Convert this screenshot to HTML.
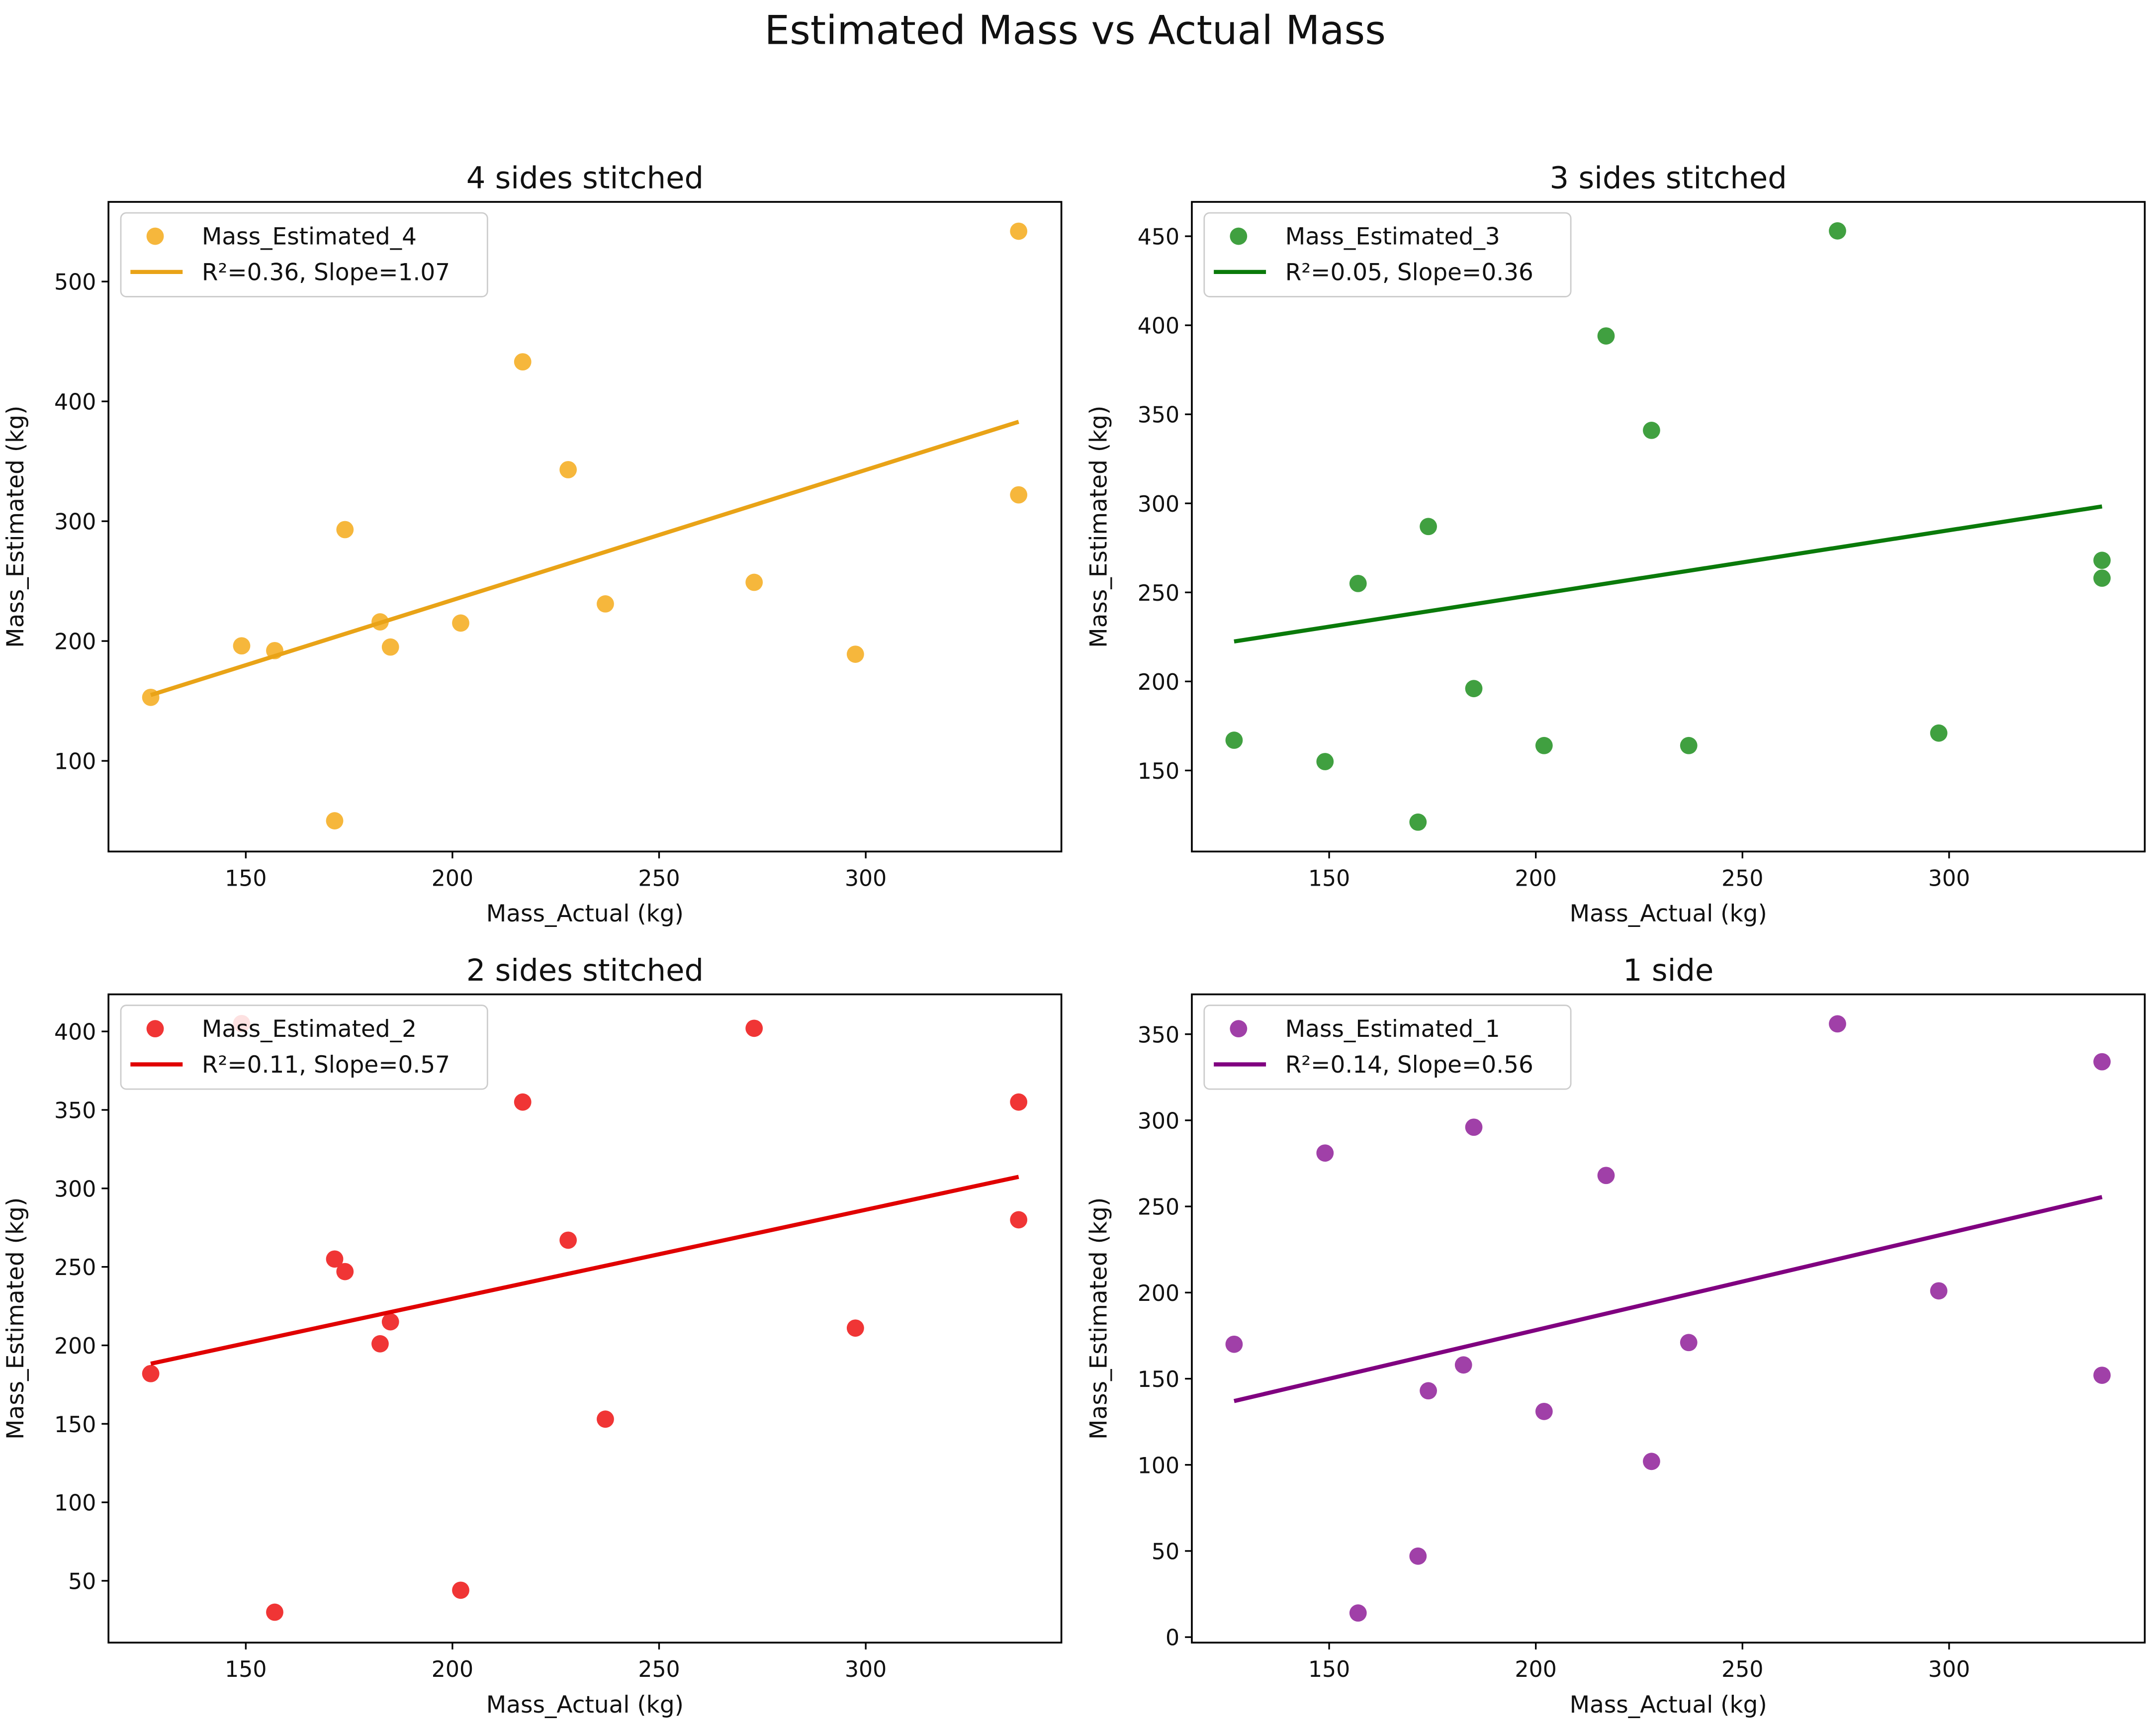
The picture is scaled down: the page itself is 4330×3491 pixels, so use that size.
<!DOCTYPE html>
<html><head><meta charset="utf-8"><style>
html,body{margin:0;padding:0;background:#fff}
svg{display:block}
text{font-family:"DejaVu Sans","Liberation Sans",sans-serif;fill:#111}
</style></head><body>
<svg id="chart" width="4330" height="3491" viewBox="0 0 1568 1264" preserveAspectRatio="none" xmlns="http://www.w3.org/2000/svg">
<rect width="1568" height="1264" fill="#fff"/>
<text x="783" y="32" font-size="29" text-anchor="middle">Estimated Mass vs Actual Mass</text>
</svg>
<script>
const massActual = [127,149,157,171.5,174,182.5,185,202,217,228,237,273,297.5,337,337];
const est4 = [153,196,192,50,293,216,195,215,433,343,231,249,189,542,322];
const est3 = [167,155,255,121,287,null,196,164,394,341,164,453,171,268,258];
const est2 = [182,405,30,255,247,201,215,44,355,267,153,402,211,355,280];
const est1 = [170,281,14,47,143,158,296,131,268,102,171,356,201,334,152];
const slopes = [1.086,0.361,0.567,0.564];
const intercepts = [17,176.6,116.3,65.4];
const r2Labels = ["R²=0.36, Slope=1.07","R²=0.05, Slope=0.36","R²=0.11, Slope=0.57","R²=0.14, Slope=0.56"];
const titles = ["4 sides stitched","3 sides stitched","2 sides stitched","1 side"];
const seriesNames = ["Mass_Estimated_4","Mass_Estimated_3","Mass_Estimated_2","Mass_Estimated_1"];
const xTicks = [150,200,250,300];
const yTicks0 = [100,200,300,400,500];
const yTicks1 = [150,200,250,300,350,400,450];
const yTicks2 = [50,100,150,200,250,300,350,400];
const yTicks3 = [0,50,100,150,200,250,300,350];

const NS="http://www.w3.org/2000/svg";
const svg=document.getElementById('chart');
function mk(tag,attrs,parent){const e=document.createElementNS(NS,tag);for(const k in attrs)e.setAttribute(k,attrs[k]);(parent||svg).appendChild(e);return e;}
const panels=[
 {x0:79,y0:147,x1:773,y1:620,ya:205,yav:500,yb:554,ybv:100,data:est4,ticks:yTicks0,dot:"#f6b73c",line:"#e9a317"},
 {x0:868,y0:147,x1:1562,y1:620,ya:172,yav:450,yb:561,ybv:150,data:est3,ticks:yTicks1,dot:"#40a040",line:"#0a7a0a"},
 {x0:79,y0:724,x1:773,y1:1196,ya:751,yav:400,yb:1151,ybv:50,data:est2,ticks:yTicks2,dot:"#f03535",line:"#e00000"},
 {x0:868,y0:724,x1:1562,y1:1196,ya:753,yav:350,yb:1192,ybv:0,data:est1,ticks:yTicks3,dot:"#a040a8",line:"#800080"}
];
panels.forEach((p,i)=>{
 const xs=v=>p.x0+100+(v-150)*(150.5/50);
 const ys=v=>p.ya+(v-p.yav)*(p.yb-p.ya)/(p.ybv-p.yav);
 const g=mk('g',{});
 
 
 const t=mk('text',{x:(p.x0+p.x1)/2,y:p.y0-10,'font-size':22,'text-anchor':'middle'},g);t.textContent=titles[i];
 
 
 xTicks.forEach(v=>{const x=xs(v);mk('line',{x1:x,x2:x,y1:p.y1,y2:p.y1+5,stroke:'#000','stroke-width':1.2},g);
  const tt=mk('text',{x:x,y:p.y1+25,'font-size':16,'text-anchor':'middle'},g);tt.textContent=v;
  
  });
 p.ticks.forEach(v=>{const y=ys(v);mk('line',{x1:p.x0-5,x2:p.x0,y1:y,y2:y,stroke:'#000','stroke-width':1.2},g);
  const tt=mk('text',{x:p.x0-9,y:y+6,'font-size':16,'text-anchor':'end'},g);tt.textContent=v;
  
  });
 const xl=mk('text',{x:(p.x0+p.x1)/2,y:p.y1+51,'font-size':17,'text-anchor':'middle'},g);xl.textContent='Mass_Actual (kg)';
 
 
 const cy=(p.y0+p.y1)/2,cx=p.x0-62;
 const yl=mk('text',{x:cx,y:cy,'font-size':17,'text-anchor':'middle',transform:`rotate(-90 ${cx} ${cy})`},g);yl.textContent='Mass_Estimated (kg)';
 
 
 massActual.forEach((xv,j)=>{const v=p.data[j];if(v==null)return;
  const c=mk('circle',{cx:xs(xv),cy:ys(v),r:6.3,fill:p.dot},g);
  
  });
 const xmin=Math.min(...massActual),xmax=Math.max(...massActual);
 const ln=mk('line',{x1:xs(xmin),y1:ys(intercepts[i]+slopes[i]*xmin),x2:xs(xmax),y2:ys(intercepts[i]+slopes[i]*xmax),stroke:p.line,'stroke-width':3},g);
 
 
 mk('rect',{x:p.x0,y:p.y0,width:p.x1-p.x0,height:p.y1-p.y0,fill:'none',stroke:'#000','stroke-width':1.3},g);
 const lg=mk('g',{},g);
 
 
 mk('rect',{x:p.x0+9,y:p.y0+8,width:267,height:61,rx:4,fill:'#fff','fill-opacity':0.85,stroke:'#ccc','stroke-width':1},lg);
 mk('circle',{cx:p.x0+34,cy:p.y0+25,r:6.3,fill:p.dot},lg);
 const l1=mk('text',{x:p.x0+68,y:p.y0+31,'font-size':17},lg);l1.textContent=seriesNames[i];
 mk('line',{x1:p.x0+16,x2:p.x0+54,y1:p.y0+51,y2:p.y0+51,stroke:p.line,'stroke-width':3},lg);
 const l2=mk('text',{x:p.x0+68,y:p.y0+57,'font-size':17},lg);l2.textContent=r2Labels[i];
});
</script>
</body></html>
